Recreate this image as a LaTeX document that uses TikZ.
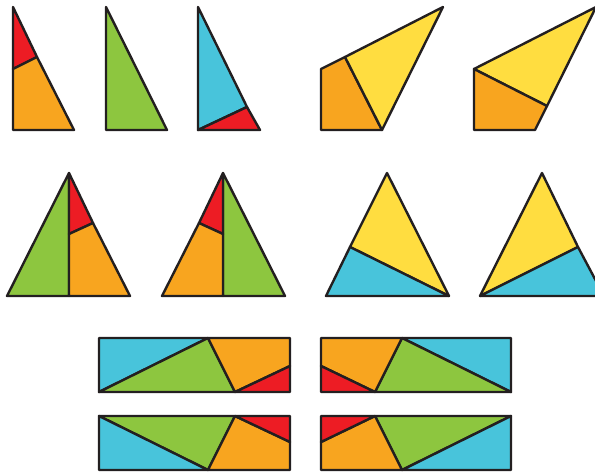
\documentclass[tikz,border=0pt]{standalone}
\definecolor{pRed}{HTML}{ED1C24}
\definecolor{pOrange}{HTML}{F8A51F}
\definecolor{pYellow}{HTML}{FFDD40}
\definecolor{pGreen}{HTML}{8DC63F}
\definecolor{pCyan}{HTML}{48C4DB}
\definecolor{pLine}{HTML}{231F20}
\begin{document}
\begin{tikzpicture}[
    x=1pt, y=-1pt,
    piece/.style={draw=pLine, line width=2.4pt, line join=round},
    red/.style={piece, fill=pRed},
    orange/.style={piece, fill=pOrange},
    yellow/.style={piece, fill=pYellow},
    green/.style={piece, fill=pGreen},
    cyan/.style={piece, fill=pCyan}
    ]

    \useasboundingbox (0,0) rectangle (595,472);
    \clip (0,0) rectangle (595,472);

    % first row
    \draw[red] (13,7) -- (37,57) -- (13,69) -- cycle;
    \draw[orange] (13,69) -- (37,57) -- (74,130) -- (13,130) -- cycle;

    \draw[green] (106,7) -- (167,130) -- (106,130) -- cycle;

    \draw[cyan] (198,7) -- (247,107) -- (198,130) -- cycle;
    \draw[red] (198,130) -- (247,107) -- (260,130) -- cycle;

    \draw[orange] (321,69) -- (345,57) -- (382,130) -- (321,130) -- cycle;
    \draw[yellow] (345,57) -- (443,7) -- (382,130) -- cycle;

    \draw[yellow] (474,69) -- (596,7) -- (547,106) -- cycle;
    \draw[orange] (474,69) -- (547,106) -- (535,130) -- (474,130) -- cycle;

    % second row
    \draw[green] (69,173) -- (69,296) -- (7,296) -- cycle;
    \draw[red] (69,173) -- (93,223) -- (69,234) -- cycle;
    \draw[orange] (69,234) -- (93,223) -- (130,296) -- (69,296) -- cycle;

    \draw[green] (223,173) -- (285,296) -- (223,296) -- cycle;
    \draw[red] (223,173) -- (223,234) -- (199,223) -- cycle;
    \draw[orange] (223,234) -- (223,296) -- (162,296) -- (199,223) -- cycle;

    \draw[yellow] (387,173) -- (449,296) -- (350,247) -- cycle;
    \draw[cyan] (350,247) -- (449,296) -- (326,296) -- cycle;

    \draw[yellow] (542,173) -- (578,247) -- (480,296) -- cycle;
    \draw[cyan] (480,296) -- (578,247) -- (604,296) -- cycle;

    % rectangles
    \draw[cyan] (99,338) -- (208,338) -- (99,392) -- cycle;
    \draw[green] (99,392) -- (208,338) -- (235,392) -- cycle;
    \draw[orange] (208,338) -- (290,338) -- (290,366) -- (235,392) -- cycle;
    \draw[red] (235,392) -- (290,366) -- (290,392) -- cycle;

    \draw[cyan] (511,338) -- (402,338) -- (511,392) -- cycle;
    \draw[green] (511,392) -- (402,338) -- (375,392) -- cycle;
    \draw[orange] (402,338) -- (321,338) -- (321,366) -- (375,392) -- cycle;
    \draw[red] (375,392) -- (321,366) -- (321,392) -- cycle;

    \draw[green] (99,416) -- (235,416) -- (208,470) -- cycle;
    \draw[cyan] (99,416) -- (208,470) -- (99,470) -- cycle;
    \draw[orange] (235,416) -- (290,442) -- (290,470) -- (208,470) -- cycle;
    \draw[red] (235,416) -- (290,416) -- (290,442) -- cycle;

    \draw[green] (511,416) -- (375,416) -- (402,470) -- cycle;
    \draw[cyan] (511,416) -- (402,470) -- (511,470) -- cycle;
    \draw[orange] (375,416) -- (321,442) -- (321,470) -- (402,470) -- cycle;
    \draw[red] (375,416) -- (321,416) -- (321,442) -- cycle;

\end{tikzpicture}
\end{document}
